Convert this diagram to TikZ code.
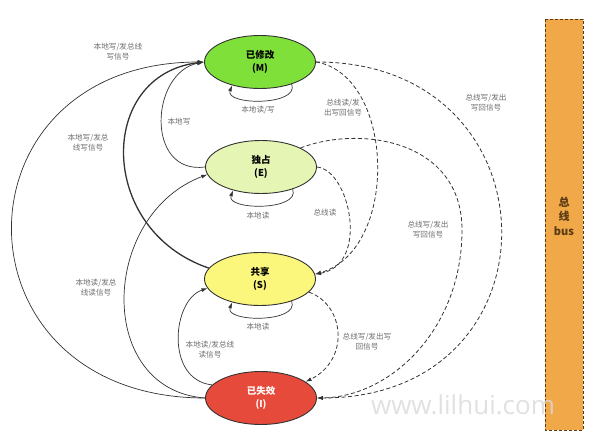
\documentclass[tikz,border=0pt]{standalone}
\usepackage{fontspec}
\setmainfont{Noto Sans CJK SC}
\newfontfamily\wmfont{Open Sans}
\usetikzlibrary{arrows.meta,shapes.geometric}
\definecolor{mgreen}{HTML}{7FE03A}
\definecolor{egreen}{HTML}{E4F5B4}
\definecolor{syellow}{HTML}{FBF67C}
\definecolor{ired}{HTML}{E64A3B}
\definecolor{busorange}{HTML}{F0A848}
\definecolor{linegray}{HTML}{333333}
\definecolor{labelgray}{HTML}{6E6E6E}
\definecolor{busbrown}{HTML}{5A3A12}
\begin{document}
\begin{tikzpicture}[x=1pt,y=-1pt,
    state/.style={ellipse,draw=linegray,line width=0.9pt,minimum width=111pt,minimum height=53pt,inner sep=0pt,align=center,font=\fontsize{9.5}{12.5}\selectfont\bfseries},
    lbl/.style={align=center,text=labelgray,font=\fontsize{7.6}{10}\selectfont,inner sep=0pt},
    local/.style={draw=linegray,line width=0.7pt,-{Latex[length=6pt,width=4pt]}},
    snoop/.style={draw=linegray,line width=0.8pt,dash pattern=on 4pt off 2.5pt,-{Latex[length=6pt,width=4pt]}}]
    \useasboundingbox (0,0) rectangle (604,438);
    \draw[busbrown,fill=busorange,line width=0.8pt,dash pattern=on 3pt off 2pt] (545,19) rectangle (583,430);
    \node (bus) at (564,216) [align=center,text=busbrown,font=\fontsize{11}{14.5}\selectfont\bfseries] {总\\线\\bus};
    \node (M) at (260,62) [state,fill=mgreen] {已修改\\(M)};
    \node (E) at (261,167) [state,fill=egreen] {独占\\(E)};
    \node (S) at (260,279) [state,fill=syellow] {共享\\(S)};
    \node (I) at (261,398) [state,fill=ired,text=white] {已失效\\(I)};
    \foreach \s in {M,E,S}
        \draw[local] (\s.-35) .. controls +(8,22) and +(-8,20) .. (\s.-140);
    \node (lM) at (258,110) [lbl] {本地读/写};
    \node (lE) at (258,216) [lbl] {本地读};
    \node (lS) at (258,327) [lbl] {本地读};
    \draw[local] (I.west) .. controls (-52,398) and (-52,62) .. (M.west);
    \draw[local,line width=1.3pt,-{Latex[length=7pt,width=5pt]}] (S.168) .. controls (97,230) and (97,75) .. (M.west);
    \draw[local] (E.west) .. controls (145,175) and (150,72) .. (M.west);
    \draw[local] (I.west) .. controls (95,390) and (100,215) .. (E.188);
    \draw[local] (I.165) .. controls (165,380) and (172,300) .. (S.190);
    \node (lIM) at (118,52) [lbl] {本地写/发总线\\写信号};
    \node (lEM) at (179,122) [lbl] {本地写};
    \node (lSM) at (88,143) [lbl] {本地写/发总\\线写信号};
    \node (lIE) at (96,288) [lbl] {本地读/发总\\线读信号};
    \node (lIS) at (210,350) [lbl] {本地读/发总线\\读信号};
    \draw[snoop] (M.east) .. controls (395,75) and (400,250) .. (S.5);
    \draw[snoop] (E.east) .. controls (350,170) and (370,265) .. (S.5);
    \draw[snoop] (M.east) .. controls (560,61) and (565,398) .. (I.east);
    \draw[snoop] (E.north east) .. controls (360,125) and (462,140) .. (462,230) .. controls (462,330) and (390,397) .. (I.east);
    \draw[snoop] (S.-15) .. controls (345,305) and (350,360) .. (I.20);
    \node (lMS) at (343,108) [lbl] {总线读/发\\出写回信号};
    \node (lMI) at (486,103) [lbl] {总线写/发出\\写回信号};
    \node (lES) at (325,213) [lbl] {总线读};
    \node (lEI) at (428,230) [lbl] {总线写/发出\\写回信号};
    \node (lSI) at (367,342) [lbl] {总线写/发出写\\回信号};
    \node (wm) at (463,405) [text=black!15,text opacity=0.8,font=\wmfont\fontsize{26}{26}\selectfont] {www.lilhui.com};
\end{tikzpicture}
\end{document}
